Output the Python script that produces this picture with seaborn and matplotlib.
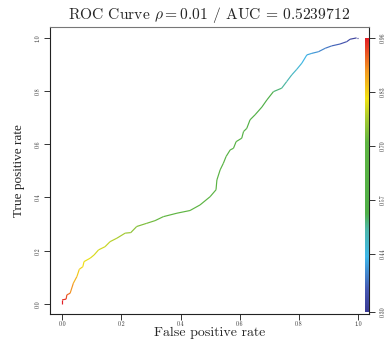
import numpy as np
import matplotlib
matplotlib.use("Agg")
import matplotlib.pyplot as plt
from matplotlib.collections import LineCollection
from matplotlib.colors import LinearSegmentedColormap, Normalize
import seaborn as sns

# ROC curve points (false positive rate, true positive rate) and the cutoff at each point
fpr = [0.000, 0.000, 0.0135, 0.016, 0.027, 0.038, 0.050, 0.058, 0.070, 0.074,
       0.095, 0.108, 0.123, 0.145, 0.162, 0.185, 0.213, 0.232, 0.252, 0.286,
       0.314, 0.342, 0.388, 0.432, 0.466, 0.500, 0.520, 0.523, 0.534, 0.545,
       0.554, 0.568, 0.579, 0.588, 0.607, 0.613, 0.624, 0.635, 0.652, 0.675,
       0.692, 0.714, 0.742, 0.759, 0.776, 0.793, 0.810, 0.827, 0.844, 0.866,
       0.889, 0.911, 0.939, 0.962, 0.973, 0.995, 1.000]
tpr = [0.000, 0.015, 0.018, 0.034, 0.040, 0.078, 0.103, 0.130, 0.140, 0.159,
       0.172, 0.184, 0.203, 0.215, 0.234, 0.247, 0.266, 0.268, 0.291, 0.303,
       0.313, 0.328, 0.341, 0.351, 0.372, 0.403, 0.429, 0.466, 0.504, 0.529,
       0.554, 0.579, 0.585, 0.610, 0.623, 0.648, 0.660, 0.692, 0.711, 0.740,
       0.767, 0.798, 0.811, 0.836, 0.861, 0.882, 0.905, 0.936, 0.942, 0.948,
       0.961, 0.970, 0.977, 0.986, 0.995, 1.000, 1.000]
cutoff = [0.960, 0.958, 0.935, 0.925, 0.900, 0.870, 0.845, 0.830, 0.820, 0.815,
          0.805, 0.800, 0.795, 0.790, 0.780, 0.770, 0.760, 0.750, 0.740, 0.730,
          0.720, 0.710, 0.700, 0.690, 0.680, 0.670, 0.660, 0.655, 0.650, 0.645,
          0.640, 0.630, 0.625, 0.620, 0.610, 0.605, 0.600, 0.590, 0.580, 0.560,
          0.545, 0.530, 0.510, 0.495, 0.480, 0.460, 0.440, 0.425, 0.415, 0.400,
          0.385, 0.370, 0.355, 0.340, 0.330, 0.310, 0.300]

# Colour key labels for the cutoff scale
cb_ticks = [0.96, 0.83, 0.70, 0.57, 0.44, 0.30]
axis_ticks = [0.0, 0.2, 0.4, 0.6, 0.8, 1.0]

title = r"ROC Curve $\rho = 0.01$ / AUC = 0.5239712"

sns.set_style("white")
plt.rcParams["font.family"] = "serif"
plt.rcParams["font.serif"] = ["cmr10", "DejaVu Serif"]
plt.rcParams["mathtext.fontset"] = "cm"
plt.rcParams["axes.formatter.use_mathtext"] = True
plt.rcParams["axes.unicode_minus"] = False

cmap = LinearSegmentedColormap.from_list("roc_rainbow", [
    (0.00, "#3a3a94"), (0.08, "#4658b2"), (0.20, "#3fb6e8"),
    (0.30, "#4db7aa"), (0.36, "#4faf48"), (0.62, "#5fb542"),
    (0.71, "#a9cb30"), (0.78, "#f1e214"), (0.88, "#f49a22"),
    (1.00, "#e31e26")])
norm = Normalize(min(cutoff), max(cutoff))

fig = plt.figure(figsize=(3.87, 3.41), dpi=100)
ax = fig.add_axes([50 / 387, 1 - 314 / 341, 319 / 387, 287 / 341])

pts = np.column_stack([fpr, tpr])
segs = np.stack([pts[:-1], pts[1:]], axis=1)
seg_cut = (np.array(cutoff[:-1]) + np.array(cutoff[1:])) / 2
lc = LineCollection(segs, colors=cmap(norm(seg_cut)), linewidths=0.85,
                    capstyle="butt", joinstyle="miter")
ax.add_collection(lc)

ax.set_xlim(-0.041, 1.037)
ax.set_ylim(-0.038, 1.041)

ax.set_xticks(axis_ticks)
ax.set_yticks(axis_ticks)
ax.set_xticklabels([f"{t:.1f}" for t in axis_ticks])
ax.set_yticklabels([f"{t:.1f}" for t in axis_ticks], rotation=90, va="center")
ax.tick_params(axis="both", direction="out", length=4, width=0.7,
               labelsize=4.3, colors="#333333", pad=2.5,
               left=True, bottom=True)
ax.tick_params(axis="x", pad=1.5)
for s in ax.spines.values():
    s.set_color("#222222")
    s.set_linewidth(0.8)
ax.spines["top"].set_color("#777777")

ax.set_xlabel("False positive rate", fontsize=10, labelpad=-0.5)
ax.xaxis.label.set_fontstretch("expanded")
ax.set_ylabel("True positive rate", fontsize=9.5, labelpad=7,
              family="Liberation Serif")
ax.set_title(title, fontsize=11.2, pad=6)

# colour strip for the cutoff scale along the right edge
y_bot, y_top = (304 - 312) / 266, (304 - 38) / 266
grad = np.linspace(0, 1, 256).reshape(-1, 1)
ax.imshow(grad, cmap=cmap, aspect="auto", origin="lower",
          extent=(1.025, 1.037, y_bot, y_top), zorder=3)

ax2 = ax.twinx()
ax2.set_ylim(ax.get_ylim())
ax2.set_yticks([y_bot + norm(c) * (y_top - y_bot) for c in cb_ticks])
ax2.set_yticklabels([f"{c:.2f}" for c in cb_ticks], rotation=90, va="center")
ax2.tick_params(axis="y", direction="out", length=4, width=0.7,
                labelsize=4.3, colors="#333333", pad=4, right=True)
for s in ax2.spines.values():
    s.set_visible(False)

fig.savefig("out.png", dpi=100)
